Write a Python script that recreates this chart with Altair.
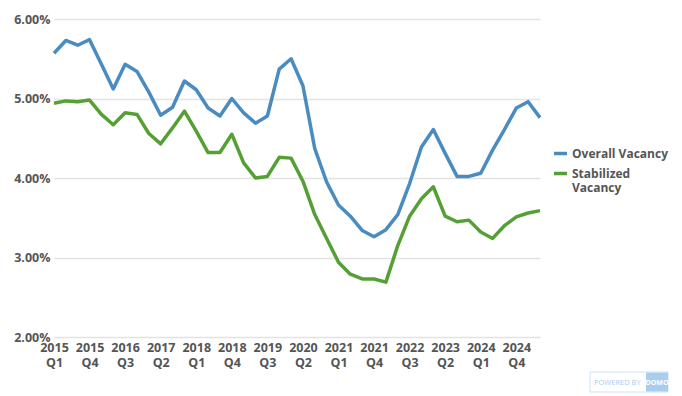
import altair as alt
import pandas as pd

years = [2015, 2016, 2017, 2018, 2019, 2020, 2021, 2022, 2023, 2024, 2025]
quarters = [f"{y} Q{q}" for y in years for q in range(1, 5)][:42]

overall = [5.57, 5.73, 5.67, 5.74, 5.43, 5.12, 5.43, 5.34, 5.08, 4.79,
           4.89, 5.22, 5.11, 4.88, 4.78, 5.00, 4.82, 4.69, 4.78, 5.37,
           5.50, 5.16, 4.37, 3.95, 3.66, 3.52, 3.34, 3.26, 3.35, 3.54,
           3.93, 4.39, 4.61, 4.31, 4.02, 4.02, 4.06, 4.35, 4.61, 4.88,
           4.96, 4.76]
stabilized = [4.94, 4.97, 4.96, 4.98, 4.80, 4.67, 4.82, 4.80, 4.56, 4.43,
              4.63, 4.84, 4.59, 4.32, 4.32, 4.55, 4.19, 4.00, 4.02, 4.26,
              4.25, 3.96, 3.54, 3.24, 2.94, 2.79, 2.73, 2.73, 2.69, 3.15,
              3.52, 3.74, 3.89, 3.52, 3.45, 3.47, 3.32, 3.24, 3.40, 3.51,
              3.56, 3.59]

series_names = ["Overall Vacancy", "Stabilized Vacancy"]
colors = ["#4A8BC0", "#55A035"]
y_ticks = [2, 3, 4, 5, 6]
x_ticks = quarters[::3]

rows = []
for name, vals in zip(series_names, [overall, stabilized]):
    for q, v in zip(quarters, vals):
        rows.append({"quarter": q, "value": v, "series": name})
df = pd.DataFrame(rows)

text_color = "#555555"
font = "Open Sans"

lines = alt.Chart(df).mark_line(strokeWidth=3.5, strokeJoin="round").encode(
    x=alt.X("quarter:N", sort=quarters,
            scale=alt.Scale(type="point", padding=0),
            axis=alt.Axis(title=None, values=x_ticks, labelAngle=0,
                          labelExpr="split(datum.label, ' ')",
                          ticks=False, domain=False, grid=False,
                          labelPadding=4, labelLineHeight=15)),
    y=alt.Y("value:Q", scale=alt.Scale(domain=[2, 6], nice=False, zero=False),
            axis=alt.Axis(title=None, values=y_ticks,
                          labelExpr="format(datum.value, '.2f') + '%'",
                          ticks=False, domain=False, labelPadding=4,
                          gridColor="#e3e3e3", gridWidth=1.5)),
    color=alt.Color("series:N",
                    scale=alt.Scale(domain=series_names, range=colors),
                    legend=alt.Legend(title=None, orient="none",
                                      legendX=498, legendY=126,
                                      symbolType="stroke", symbolStrokeWidth=3.5,
                                      symbolSize=169, labelOffset=3,
                                      labelExpr="datum.label == 'Stabilized Vacancy' ? ['Stabilized', 'Vacancy'] : datum.label",
                                      rowPadding=4)),
)

# "POWERED BY DOMO" badge
badge_src = pd.DataFrame({"t": ["POWERED BY"]})
badge_box = alt.Chart(badge_src).mark_rect(
    fill="white", stroke="#cfe3f5", strokeWidth=1
).encode(x=alt.value(536), x2=alt.value(614), y=alt.value(353), y2=alt.value(373))
badge_blue = alt.Chart(badge_src).mark_rect(fill="#a9cdee").encode(
    x=alt.value(592), x2=alt.value(614), y=alt.value(353.5), y2=alt.value(372.5))
badge_text = alt.Chart(badge_src).mark_text(
    font=font, fontSize=7.5, color="#a9cdee", align="left", baseline="middle"
).encode(x=alt.value(540), y=alt.value(363.5), text="t:N")
badge_domo = alt.Chart(pd.DataFrame({"t": ["DOMO"]})).mark_text(
    font=font, fontSize=7, fontWeight="bold", color="white", align="center", baseline="middle"
).encode(x=alt.value(603), y=alt.value(363.5), text="t:N")

chart = alt.layer(lines, badge_box, badge_blue, badge_text, badge_domo).properties(
    width=486, height=318
).configure_axis(
    labelFont=font, labelFontSize=12.5, labelFontWeight="bold", labelColor=text_color,
).configure_legend(
    labelFont=font, labelFontSize=12, labelFontWeight="bold", labelColor=text_color,
).configure_view(stroke=None)

chart.save("out.html", embed_options={"renderer": "svg", "actions": False})
